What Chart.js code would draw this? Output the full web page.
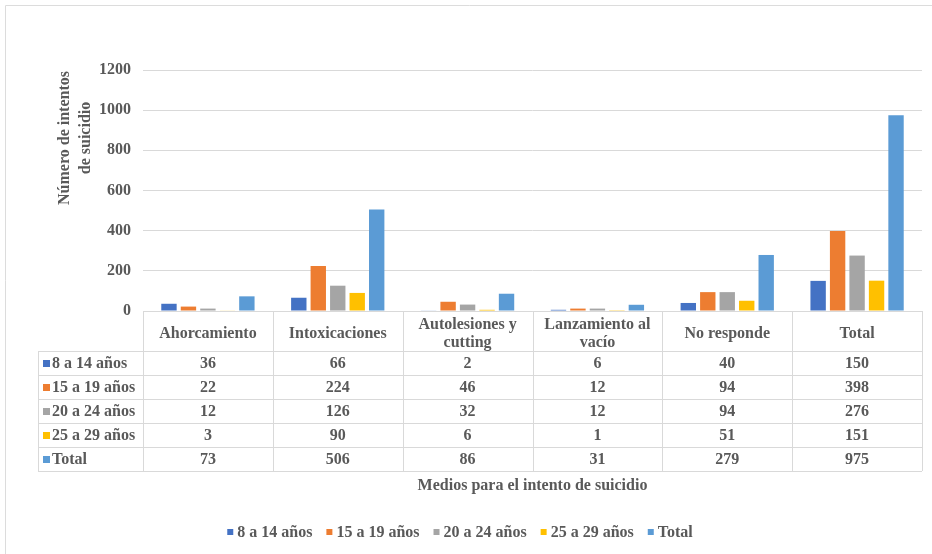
<!DOCTYPE html>
<html>
<head>
<meta charset="utf-8">
<script src="https://cdn.jsdelivr.net/npm/chart.js@4/dist/chart.umd.min.js"></script>
<style>
html,body{margin:0;padding:0;background:#fff;}
#wrap{width:932px;height:554px;position:relative;}
</style>
</head>
<body>
<div id="wrap"><canvas id="c" width="932" height="554"></canvas></div>
<script>
const categories = ['Ahorcamiento', 'Intoxicaciones', ['Autolesiones y', 'cutting'], ['Lanzamiento al', 'vacío'], 'No responde', 'Total'];
const seriesNames = ['8 a 14 años', '15 a 19 años', '20 a 24 años', '25 a 29 años', 'Total'];
const s8a14 = [36, 66, 2, 6, 40, 150];
const s15a19 = [22, 224, 46, 12, 94, 398];
const s20a24 = [12, 126, 32, 12, 94, 276];
const s25a29 = [3, 90, 6, 1, 51, 151];
const sTotal = [73, 506, 86, 31, 279, 975];
const yTicks = [0, 200, 400, 600, 800, 1000, 1200];
const yTitle = ['Número de intentos', 'de suicidio'];
const xTitle = 'Medios para el intento de suicidio';

const colors = ['#4472C4', '#ED7D31', '#A5A5A5', '#FFC000', '#5B9BD5'];
const seriesData = [s8a14, s15a19, s20a24, s25a29, sTotal];
const FONT = '"Liberation Serif", "Times New Roman", serif';
const TXT = '#595959';
const LINE = '#d9d9d9';

const datasets = seriesNames.map((n, i) => ({
  label: n,
  data: seriesData[i],
  backgroundColor: colors[i],
  borderWidth: 0,
  categoryPercentage: 0.75,
  barPercentage: 0.79
}));

const ROW_HDR = 40, ROW_H = 24, TABLE_LEFT = 38;

const tablePlugin = {
  id: 'tablePlugin',
  beforeDraw(chart) {
    const ctx = chart.ctx;
    ctx.save();
    ctx.strokeStyle = '#dcdcdc';
    ctx.lineWidth = 1;
    ctx.beginPath();
    ctx.moveTo(5.5, 560); ctx.lineTo(5.5, 5.5); ctx.lineTo(940, 5.5);
    ctx.stroke();
    ctx.restore();
  },
  afterDraw(chart) {
    const ctx = chart.ctx;
    const xs = chart.scales.x;
    const ca = chart.chartArea;
    const left = ca.left, right = ca.right;
    const n = categories.length;
    const cw = (right - left) / n;
    const top = ca.bottom;
    const hdrBottom = top + ROW_HDR;
    const bottom = hdrBottom + ROW_H * seriesNames.length;
    ctx.save();
    ctx.strokeStyle = LINE;
    ctx.lineWidth = 1;
    ctx.beginPath();
    const hy = (y) => Math.round(y) + 0.5;
    ctx.moveTo(left, hy(top)); ctx.lineTo(right, hy(top));
    for (let r = 0; r <= seriesNames.length; r++) {
      const y = hy(hdrBottom + r * ROW_H);
      ctx.moveTo(TABLE_LEFT, y); ctx.lineTo(right, y);
    }
    for (let c = 0; c <= n; c++) {
      const x = hy(left + c * cw);
      ctx.moveTo(x, top); ctx.lineTo(x, bottom);
    }
    ctx.moveTo(TABLE_LEFT + 0.5, hdrBottom); ctx.lineTo(TABLE_LEFT + 0.5, bottom);
    ctx.stroke();

    ctx.fillStyle = TXT;
    ctx.font = 'bold 16px ' + FONT;
    ctx.textAlign = 'center';
    ctx.textBaseline = 'middle';
    // header
    categories.forEach((lab, c) => {
      const cx = xs.getPixelForValue(c);
      const lines = Array.isArray(lab) ? lab : [lab];
      const cy = top + ROW_HDR / 2 + 3;
      const lh = 18;
      lines.forEach((l, k) => {
        ctx.fillText(l, cx, cy + (k - (lines.length - 1) / 2) * lh);
      });
    });
    // rows
    seriesNames.forEach((name, r) => {
      const cy = hdrBottom + r * ROW_H + ROW_H / 2 + 1;
      ctx.fillStyle = colors[r];
      ctx.fillRect(TABLE_LEFT + 5, cy - 4, 7, 7);
      ctx.fillStyle = TXT;
      ctx.textAlign = 'left';
      ctx.fillText(name, TABLE_LEFT + 14, cy);
      ctx.textAlign = 'center';
      seriesData[r].forEach((v, c) => {
        ctx.fillText(String(v), xs.getPixelForValue(c), cy);
      });
    });
    // x title
    ctx.fillText(xTitle, (left + right) / 2, 486);
    // legend
    const box = 6, gapBox = 4, gapItem = 14;
    const widths = seriesNames.map(s => box + gapBox + ctx.measureText(s).width);
    const total = widths.reduce((a, b) => a + b, 0) + gapItem * (widths.length - 1);
    let lx = 460 - total / 2;
    const ly = 532;
    seriesNames.forEach((s, i) => {
      ctx.fillStyle = colors[i];
      ctx.fillRect(lx, ly - 3, box, box);
      ctx.fillStyle = TXT;
      ctx.textAlign = 'left';
      ctx.fillText(s, lx + box + gapBox, ly + 1);
      lx += widths[i] + gapItem;
    });
    // y title
    ctx.textAlign = 'center';
    ctx.translate(75, 138);
    ctx.rotate(-Math.PI / 2);
    yTitle.forEach((l, k) => {
      ctx.fillText(l, 0, (k - 0.5) * 21);
    });
    ctx.restore();
  }
};

new Chart(document.getElementById('c'), {
  type: 'bar',
  data: { labels: categories, datasets },
  options: {
    responsive: false,
    animation: false,
    layout: { padding: { left: 0, right: 10, top: 70, bottom: 0 } },
    plugins: {
      legend: { display: false },
      tooltip: { enabled: false }
    },
    scales: {
      x: {
        ticks: { display: false },
        grid: { display: false },
        border: { display: false },
        afterFit(scale) { scale.height = 243; }
      },
      y: {
        min: 0, max: 1200,
        afterBuildTicks(scale) { scale.ticks = yTicks.map(v => ({ value: v })); },
        afterFit(scale) { scale.width = 143; },
        ticks: {
          color: TXT, padding: 12,
          font: { family: FONT, size: 16, weight: 'bold' },
          callback: (v) => String(v)
        },
        grid: { color: LINE, drawTicks: false },
        border: { display: false }
      }
    }
  },
  plugins: [tablePlugin]
});
</script>
</body>
</html>
